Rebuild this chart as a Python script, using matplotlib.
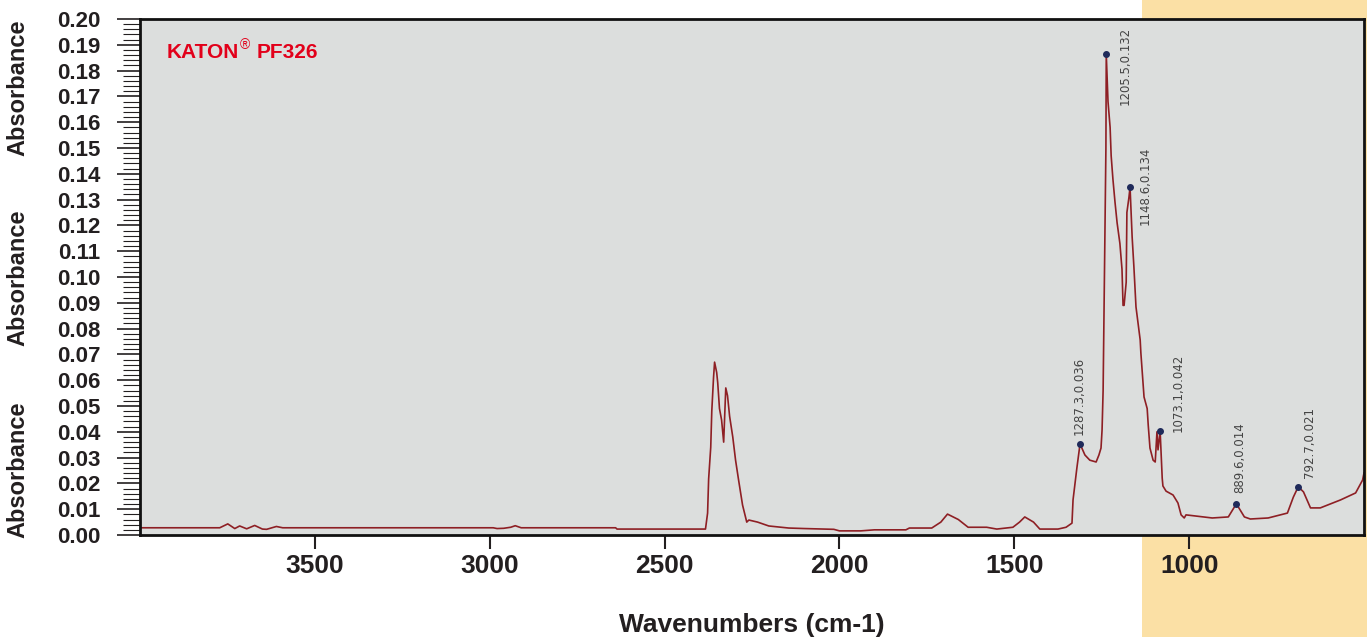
import matplotlib
matplotlib.use("Agg")
import matplotlib.pyplot as plt
import matplotlib.ticker as mticker
from matplotlib.patches import Rectangle
import numpy as np

plt.rcParams['font.family'] = ['Liberation Sans', 'DejaVu Sans']

# 光谱数据 (波数 cm-1, 吸光度)
wavenumber = [4000, 3772, 3749, 3729, 3715, 3695, 3672, 3650, 3638, 3610, 3592,
              2990, 2979, 2960, 2940, 2927, 2910, 2640, 2636, 2383,
              2377, 2374, 2368, 2365, 2360, 2357, 2351, 2348, 2343, 2337, 2331,
              2325, 2320, 2314, 2305, 2297, 2288, 2277, 2265, 2259, 2234, 2202,
              2145, 2100, 2016, 2000, 1939, 1900, 1810, 1800, 1736, 1710, 1691,
              1660, 1632, 1579, 1550, 1504, 1485, 1470, 1445, 1427, 1375, 1352,
              1335, 1332, 1321, 1312, 1298, 1284, 1266, 1258, 1252, 1249, 1246,
              1244, 1238, 1237, 1232, 1226, 1223, 1218, 1212, 1206, 1198, 1192,
              1189, 1186, 1180, 1178, 1172, 1169, 1166, 1163, 1158, 1152, 1146,
              1140, 1138, 1132, 1129, 1120, 1117, 1112, 1103, 1097, 1092, 1089,
              1083, 1077, 1075, 1066, 1046, 1032, 1023, 1014, 1009, 934, 888,
              865, 842, 825, 774, 719, 702, 688, 673, 653, 625, 567, 524, 504, 500]
absorbance = [0.0028, 0.0028, 0.0043, 0.0025, 0.0035, 0.0024, 0.0037, 0.0023, 0.0022, 0.0033, 0.0028,
              0.0028, 0.0025, 0.0026, 0.0030, 0.0036, 0.0028, 0.0028, 0.0023, 0.0023,
              0.0085, 0.0217, 0.034, 0.048, 0.061, 0.067, 0.063, 0.059, 0.049, 0.0446, 0.036,
              0.057, 0.054, 0.046, 0.038, 0.029, 0.021, 0.0116, 0.005, 0.0058, 0.005, 0.0035,
              0.0027, 0.0025, 0.0022, 0.0016, 0.0016, 0.0020, 0.0020, 0.0027, 0.0027, 0.005, 0.0081,
              0.006, 0.003, 0.003, 0.0023, 0.003, 0.005, 0.007, 0.005, 0.0023, 0.0023, 0.003,
              0.0046, 0.0136, 0.026, 0.0353, 0.031, 0.029, 0.0283, 0.031, 0.0337, 0.0407, 0.056,
              0.080, 0.150, 0.1864, 0.168, 0.158, 0.147, 0.138, 0.129, 0.121, 0.113, 0.103,
              0.089, 0.089, 0.098, 0.125, 0.131, 0.1349, 0.125, 0.1155, 0.104, 0.0884, 0.082,
              0.0756, 0.0705, 0.0593, 0.0535, 0.049, 0.0426, 0.0337, 0.029, 0.0283, 0.040, 0.033,
              0.0404, 0.022, 0.019, 0.017, 0.0155, 0.0124, 0.0078, 0.0066, 0.0078, 0.0066, 0.007,
              0.0121, 0.007, 0.0062, 0.0066, 0.0085, 0.0147, 0.0187, 0.0167, 0.0105, 0.0105, 0.0136, 0.0163, 0.0213, 0.024]

# 峰标注
peak_x = [1237, 1169, 1312, 1083, 865, 688]
peak_y = [0.1864, 0.1349, 0.0353, 0.0404, 0.0121, 0.0187]
peak_labels = ['1205.5,0.132', '1148.6,0.134', '1287.3,0.036',
               '1073.1,0.042', '889.6,0.014', '792.7,0.021']
label_offsets = [(19, -51), (15, -38), (-1, 9), (18, -1), (3, 11), (11, 9)]

fig = plt.figure(figsize=(13.67, 6.37), dpi=100, facecolor='white')
# 右侧橙色底块
fig.patches.append(Rectangle((1142 / 1367, 0), 1 - 1142 / 1367, 1, transform=fig.transFigure,
                             facecolor='#fbe0a5', edgecolor='none', zorder=0))

ax = fig.add_axes([140 / 1367, 1 - 535 / 637, 1224 / 1367, 516 / 637])
ax.set_zorder(2)
ax.set_facecolor('#dcdedd')
ax.plot(wavenumber, absorbance, color='#8e1f24', lw=1.2)
ax.plot(peak_x, peak_y, 'o', color='#1f2a5a', ms=4, zorder=5)

for px, py, lab, off in zip(peak_x, peak_y, peak_labels, label_offsets):
    ax.annotate(lab, xy=(px, py), xytext=off, textcoords='offset pixels',
                rotation=90, ha='center', va='bottom', fontsize=8.5, color='#444444',
                family=['Liberation Sans Narrow', 'DejaVu Sans'])

ax.set_xlim(4000, 500)
ax.set_ylim(0, 0.20)
ax.xaxis.set_major_locator(mticker.FixedLocator([3500, 3000, 2500, 2000, 1500, 1000]))
ax.yaxis.set_major_locator(mticker.MultipleLocator(0.01))
ax.yaxis.set_minor_locator(mticker.MultipleLocator(0.002))
ax.yaxis.set_major_formatter(mticker.FormatStrFormatter('%.2f'))

ax.tick_params(axis='y', which='major', length=16.5, width=1.2, pad=12,
               labelsize=16, labelcolor='#231f20', color='#231f20')
ax.tick_params(axis='y', which='minor', length=12, width=0.8, color='#231f20')
ax.tick_params(axis='x', which='major', length=10, width=1.5, pad=4,
               labelsize=19, labelcolor='#231f20', color='#231f20')
for lab in ax.get_xticklabels() + ax.get_yticklabels():
    lab.set_fontweight('bold')
for sp in ax.spines.values():
    sp.set_linewidth(2)
    sp.set_color('#111111')

ax.set_xlabel('Wavenumbers (cm-1)', fontsize=19, fontweight='bold', color='#231f20', labelpad=25)

for yc in [88, 278, 470]:
    fig.text(18 / 1367, 1 - yc / 637, 'Absorbance', rotation=90, ha='center', va='center',
             fontsize=17, fontweight='bold', color='#231f20')

# 标题 KATON® PF326
t1 = ax.text(0.022, 0.924, 'KATON', transform=ax.transAxes, fontsize=15,
             fontweight='bold', color='#e2001a', ha='left', va='baseline')
fig.canvas.draw()
bb = t1.get_window_extent()
ax.annotate('®', xy=(bb.x1, bb.y1), xycoords='figure pixels', xytext=(1, -9),
            textcoords='offset pixels', fontsize=10, color='#e2001a', ha='left', va='bottom')
ax.annotate('PF326', xy=(bb.x1, bb.y0), xycoords='figure pixels', xytext=(17, 0),
            textcoords='offset pixels', fontsize=15, fontweight='bold', color='#e2001a',
            ha='left', va='bottom')

fig.savefig('out.png', dpi=100)
